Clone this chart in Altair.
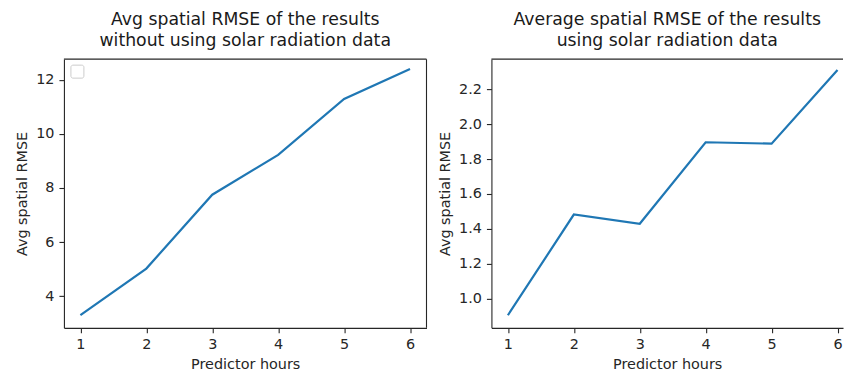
import altair as alt
import pandas as pd

hours = [1, 2, 3, 4, 5, 6]
rmse_without = [3.30, 5.02, 7.75, 9.22, 11.29, 12.40]
rmse_with = [0.905, 1.482, 1.429, 1.896, 1.888, 2.31]

x_ticks = [1, 2, 3, 4, 5, 6]
left_ticks = [4, 6, 8, 10, 12]
right_ticks = [1.0, 1.2, 1.4, 1.6, 1.8, 2.0, 2.2]

title_left = ["Avg spatial RMSE of the results", "without using solar radiation data"]
title_right = ["Average spatial RMSE of the results", "using solar radiation data"]
x_title = "Predictor hours"
y_title = "Avg spatial RMSE"

W_L, W_R, H = 363, 352, 269
FONT = "DejaVu Sans"
SPINE = 1.1


def panel(values, ydomain, yticks, yfmt, xdomain, width, title, right_spine, legend_box):
    df = pd.DataFrame({"hours": hours, "rmse": values})
    line = alt.Chart(df).mark_line(color="#1f77b4", strokeWidth=2.2).encode(
        x=alt.X("hours:Q",
                scale=alt.Scale(domain=xdomain, nice=False, zero=False),
                axis=alt.Axis(values=x_ticks, format="d", title=x_title)),
        y=alt.Y("rmse:Q",
                scale=alt.Scale(domain=ydomain, nice=False, zero=False),
                axis=alt.Axis(values=yticks, format=yfmt, title=y_title)),
    )
    deco = alt.Chart(pd.DataFrame({"d": [0]}))
    layers = [line,
              deco.mark_rule(color="#262626", strokeWidth=SPINE).encode(
                  x=alt.value(0), x2=alt.value(width), y=alt.value(0))]
    if right_spine:
        layers.append(deco.mark_rule(color="#262626", strokeWidth=SPINE).encode(
            x=alt.value(width), y=alt.value(0), y2=alt.value(H)))
    if legend_box:
        layers.append(deco.mark_rect(fill="white", stroke="#cccccc", strokeWidth=1,
                                     cornerRadius=2).encode(
            x=alt.value(7), x2=alt.value(20), y=alt.value(6), y2=alt.value(19)))
    return alt.layer(*layers).properties(
        width=width, height=H,
        title=alt.TitleParams(title, fontSize=17.3, font=FONT, fontWeight="normal",
                              color="#1a1a1a", lineHeight=21, offset=9, anchor="middle"),
    )


left = panel(rmse_without, [2.83, 12.76], left_ticks, "d", [0.75, 6.25], W_L,
             title_left, True, True)
right = panel(rmse_with, [0.833, 2.372], right_ticks, ".1f", [0.75, 0.75 + W_R / 66.0], W_R,
              title_right, False, False)

chart = alt.hconcat(left, right, spacing=10).properties(
    padding={"left": 14, "top": 11, "right": 0, "bottom": 0},
    background="white",
).configure_view(strokeWidth=0).configure_axis(
    labelFont=FONT, labelFontSize=14.4, labelColor="#262626",
    titleFont=FONT, titleFontSize=14.4, titleFontWeight="normal", titleColor="#262626",
    tickColor="#262626", tickSize=5, tickWidth=SPINE, labelPadding=5,
    grid=False, domainColor="#262626", domainWidth=SPINE, titlePadding=6,
)

chart.save("out.html", embed_options={"renderer": "svg", "actions": False})
